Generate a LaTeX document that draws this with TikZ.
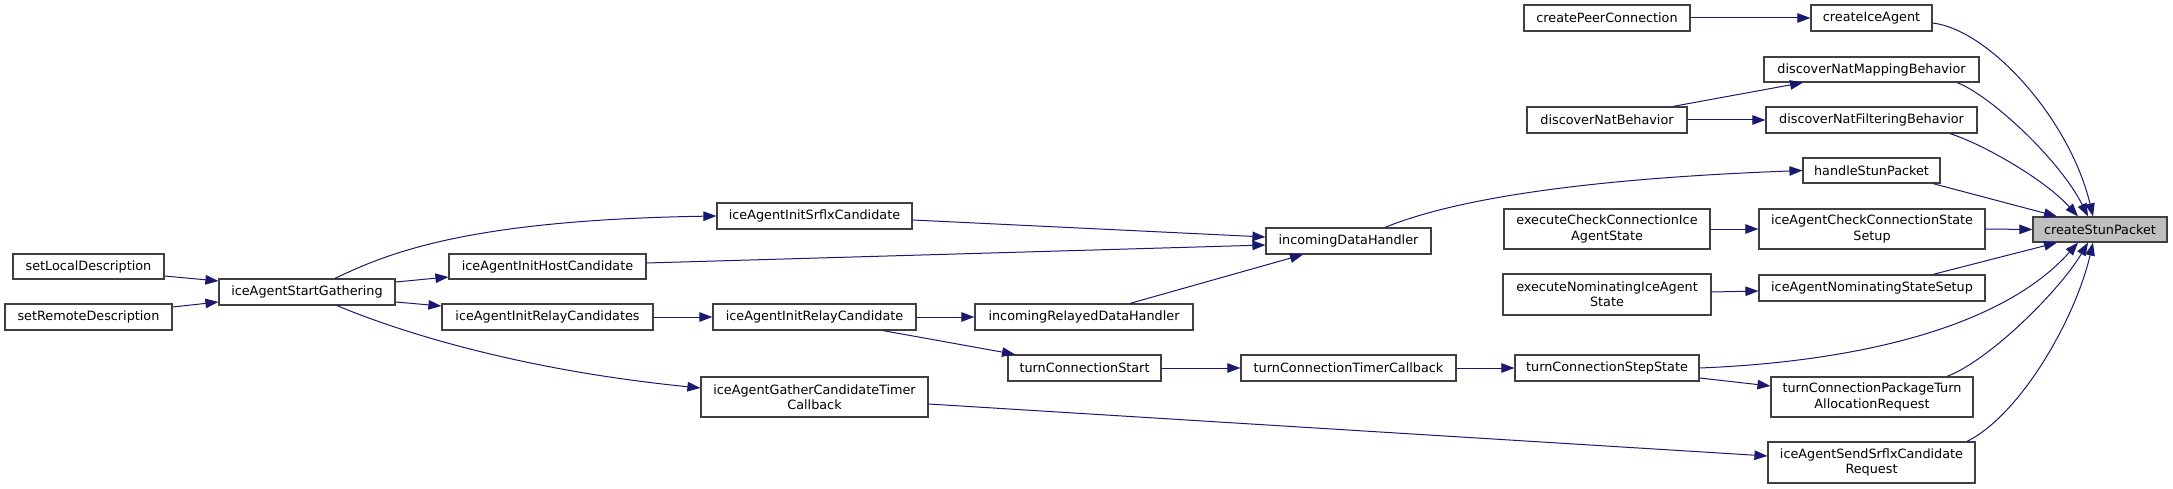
\documentclass[tikz,border=0pt]{standalone}
\usepackage{fontspec}
\setmainfont{DejaVu Sans}
\usetikzlibrary{arrows.meta}
\definecolor{edgeblue}{HTML}{191970}
\definecolor{boxgray}{HTML}{404040}
\definecolor{rootfill}{HTML}{BFBFBF}
\tikzset{
  cbox/.style={draw=boxgray, fill=white, line width=1.2pt, inner sep=0pt, align=center,
    font=\fontsize{12.8}{15.3}\selectfont},
  rootbox/.style={cbox, fill=rootfill},
  edge/.style={draw=edgeblue, line width=1pt, -{Triangle[length=13pt,width=9.5pt]}}
}
\newcommand\nd[7][cbox]{\node[#1, minimum width={#5-#3}, minimum height={#6-#4}] (#2) at ({(#3+#5)/2},{(#4+#6)/2}) {#7};}
\begin{document}
\begin{tikzpicture}[x=1pt,y=-1pt]
\fill[white] (0,0) rectangle (2173,489);
\useasboundingbox (0,0) rectangle (2173,489);
\nd{sld}{13}{254}{164}{279}{setLocalDescription}
\nd{srd}{5}{304}{172}{330}{setRemoteDescription}
\nd{sg}{219}{279}{395}{305}{iceAgentStartGathering}
\nd{hc}{449}{254}{646}{279}{iceAgentInitHostCandidate}
\nd{rcs}{442}{304}{653}{330}{iceAgentInitRelayCandidates}
\nd{sc}{717}{203}{912}{229}{iceAgentInitSrflxCandidate}
\nd{rc}{713}{304}{916}{330}{iceAgentInitRelayCandidate}
\nd{gt}{701}{377}{928}{417}{iceAgentGatherCandidateTimer\\Callback}
\nd{rdh}{975}{304}{1193}{330}{incomingRelayedDataHandler}
\nd{tcs}{1008}{355}{1161}{381}{turnConnectionStart}
\nd{idh}{1266}{228}{1431}{254}{incomingDataHandler}
\nd{tct}{1241}{355}{1456}{381}{turnConnectionTimerCallback}
\nd{cpc}{1524}{5}{1690}{31}{createPeerConnection}
\nd{dnb}{1527}{107}{1687}{133}{discoverNatBehavior}
\nd{ecc}{1504}{209}{1710}{249}{executeCheckConnectionIce\\AgentState}
\nd{eni}{1503}{274}{1711}{315}{executeNominatingIceAgent\\State}
\nd{tss}{1515}{355}{1699}{381}{turnConnectionStepState}
\nd{cia}{1811}{5}{1932}{31}{createIceAgent}
\nd{dnm}{1764}{57}{1979}{82}{discoverNatMappingBehavior}
\nd{dnf}{1766}{107}{1977}{133}{discoverNatFilteringBehavior}
\nd{hsp}{1803}{158}{1940}{183}{handleStunPacket}
\nd{ics}{1759}{209}{1985}{249}{iceAgentCheckConnectionState\\Setup}
\nd{ins}{1759}{275}{1985}{301}{iceAgentNominatingStateSetup}
\nd{tpt}{1771}{377}{1973}{417}{turnConnectionPackageTurn\\AllocationRequest}
\nd{ssr}{1768}{442}{1975}{483}{iceAgentSendSrflxCandidate\\Request}
\nd[rootbox]{csp}{2033}{217}{2167}{242}{createStunPacket}

\draw[edge] ([yshift=-9.5pt]sld.east) -- ([yshift=11pt]sg.west);
\draw[edge] ([yshift=10pt]srd.east) -- ([yshift=-10pt]sg.west);
\draw[edge] ([yshift=10pt]sg.east) -- ([yshift=-10.5pt]hc.west);
\draw[edge] ([yshift=-10pt]sg.east) -- ([yshift=11pt]rcs.west);
\draw[edge] ([xshift=28pt]sg.north) .. controls (390,252) and (470,220) .. (sc.west);
\draw[edge] ([xshift=30pt]sg.south) .. controls (400,332) and (520,370) .. ([yshift=9pt]gt.west);
\draw[edge] ([yshift=3.5pt]hc.east) -- ([yshift=-4pt]idh.west);
\draw[edge] ([yshift=-4pt]sc.east) -- ([yshift=4pt]idh.west);
\draw[edge] (rcs.east) -- (rc.west);
\draw[edge] (rc.east) -- (rdh.west);
\draw[edge] ([xshift=68.5pt]rc.south) -- ([xshift=-69.5pt]tcs.north);
\draw[edge] ([xshift=46pt]rdh.north) -- ([xshift=-45.5pt]idh.south);
\draw[edge] (tcs.east) -- (tct.west);
\draw[edge] (tct.east) -- (tss.west);
\draw[edge] ([yshift=-7pt]gt.east) -- ([yshift=6.5pt]ssr.west);
\draw[edge] ([xshift=36.5pt]idh.north) .. controls (1440,205) and (1550,180) .. (hsp.west);
\draw[edge] (cpc.east) -- (cia.west);
\draw[edge] ([xshift=66pt]dnb.north) -- ([xshift=-68.5pt]dnm.south);
\draw[edge] (dnb.east) -- (dnf.west);
\draw[edge] (ecc.east) -- (ics.west);
\draw[edge] ([yshift=2.5pt]eni.east) -- ([yshift=-3pt]ins.west);
\draw[edge] ([yshift=-10pt]tss.east) -- ([yshift=11pt]tpt.west);
\draw[edge] ([yshift=-5pt]cia.east) .. controls (1990,30) and (2070,120) .. ([xshift=-7pt]csp.north);
\draw[edge] ([xshift=85.5pt]dnm.south) .. controls (1990,95) and (2060,160) .. ([xshift=-12pt]csp.north);
\draw[edge] ([xshift=78.5pt]dnf.south) .. controls (1985,145) and (2045,180) .. ([xshift=-22pt]csp.north);
\draw[edge] ([xshift=61.5pt]hsp.south) -- ([xshift=-43pt]csp.north);
\draw[edge] (ics.east) -- (csp.west);
\draw[edge] ([xshift=61pt]ins.north) -- ([xshift=-43pt]csp.south);
\draw[edge] (tss.east) .. controls (1850,362) and (2000,330) .. ([xshift=-22pt]csp.south);
\draw[edge] ([xshift=75pt]tpt.north) .. controls (1990,360) and (2060,290) .. ([xshift=-12pt]csp.south);
\draw[edge] ([xshift=95.5pt]ssr.north) .. controls (2020,415) and (2075,320) .. ([xshift=-7pt]csp.south);
\end{tikzpicture}
\end{document}
